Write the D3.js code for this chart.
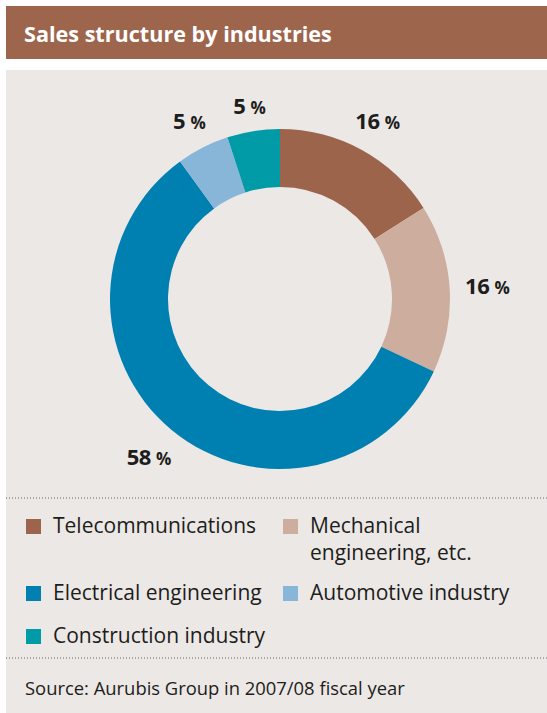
<!DOCTYPE html>
<html>
<head>
<meta charset="utf-8">
<script src="https://cdn.jsdelivr.net/npm/d3@7"></script>
<style>
  body { margin: 0; background: #fff; }
  svg { display: block; }
</style>
</head>
<body>
<div id="chart"></div>
<script>
// data
const industries = ["Telecommunications", "Mechanical engineering, etc.", "Electrical engineering", "Automotive industry", "Construction industry"];
const shares = [16, 16, 58, 5, 5];
const colors = ["#9d644c", "#cdae9e", "#007fb1", "#87b6d8", "#009ba6"];
const legendLines = [["Telecommunications"], ["Mechanical", "engineering, etc."], ["Electrical engineering"], ["Automotive industry"], ["Construction industry"]];
const title = "Sales structure by industries";
const source = "Source: Aurubis Group in 2007/08 fiscal year";

const width = 547, height = 713;
const font = "'Open Sans', 'Noto Sans', sans-serif";

const svg = d3.select("#chart").append("svg")
    .attr("width", width).attr("height", height);

// title bar
svg.append("rect").attr("x", 6).attr("y", 6).attr("width", width - 6).attr("height", 53).attr("fill", "#9e654d");
svg.append("text")
    .attr("x", 24).attr("y", 42)
    .style("font-family", font).style("font-weight", "bold").style("font-size", "21.6px")
    .attr("fill", "#fff")
    .text(title);

// grey panel
svg.append("rect").attr("x", 6).attr("y", 70).attr("width", width - 6).attr("height", height - 70).attr("fill", "#ece8e6");

// donut
const cx = 280, cy = 299, outerR = 170, innerR = 112;
const g = svg.append("g").attr("transform", `translate(${cx},${cy})`);

const pie = d3.pie().value(d => d).sort(null);
const arc = d3.arc().innerRadius(innerR).outerRadius(outerR);
const arcs = pie(shares);

g.selectAll("path.slice")
    .data(arcs)
    .enter().append("path")
    .attr("class", "slice")
    .attr("d", arc)
    .attr("fill", (d, i) => colors[i]);

// labels: keep a fixed gap between the ring and the label box
const gap = 15, capH = 16;
const labels = g.selectAll("text.lbl")
    .data(arcs)
    .enter().append("text")
    .attr("class", "lbl")
    .attr("text-anchor", "middle")
    .style("font-family", font)
    .style("font-weight", "bold")
    .attr("fill", "#1d1d1b");
labels.append("tspan").style("font-size", "22px").style("letter-spacing", "-0.5px").text(d => d.data + " ");
labels.append("tspan").style("font-size", "17px").text("%");
labels.each(function(d) {
    const w = this.getComputedTextLength();
    const a = (d.startAngle + d.endAngle) / 2;
    const s = Math.sin(a), c = Math.cos(a);
    const r = outerR + gap + Math.abs(s) * w / 2 + Math.abs(c) * capH / 2;
    d3.select(this).attr("x", r * s).attr("y", -r * c + capH / 2);
});

// dotted separators
[498, 658].forEach(y => {
    svg.append("line")
        .attr("x1", 6).attr("x2", width).attr("y1", y).attr("y2", y)
        .attr("stroke", "#666").attr("stroke-width", 1).attr("stroke-dasharray", "1,2");
});

// legend
const legendPos = [[26, 533], [283, 533], [26, 600], [283, 600], [26, 643]];
const legend = svg.append("g");
industries.forEach((name, i) => {
    const [x, y] = legendPos[i];
    const item = legend.append("g").attr("transform", `translate(${x},${y})`);
    item.append("rect").attr("x", 0).attr("y", -14).attr("width", 15).attr("height", 15).attr("fill", colors[i]);
    const t = item.append("text")
        .attr("x", 27).attr("y", 0)
        .style("font-family", font).style("font-size", "21px")
        .attr("fill", "#1d1d1b");
    legendLines[i].forEach((line, j) => {
        t.append("tspan").attr("x", 27).attr("dy", j === 0 ? 0 : 27).text(line);
    });
});

// source
svg.append("text")
    .attr("x", 25).attr("y", 695)
    .style("font-family", font).style("font-size", "18.4px")
    .attr("fill", "#1d1d1b")
    .text(source);
</script>
</body>
</html>
